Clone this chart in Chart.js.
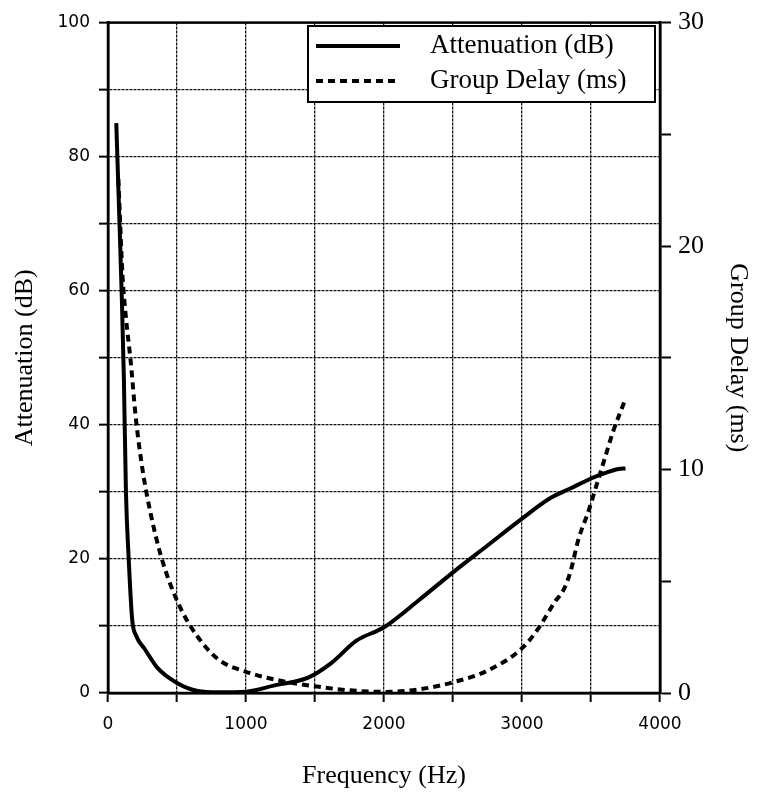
<!DOCTYPE html>
<html>
<head>
<meta charset="utf-8">
<script src="https://cdn.jsdelivr.net/npm/chart.js@4/dist/chart.umd.min.js"></script>
<style>
  html, body { margin: 0; padding: 0; background: #fff; }
  #wrap { width: 762px; height: 796px; }
</style>
</head>
<body>
<div id="wrap"><canvas id="c" width="762" height="796"></canvas></div>
<script>
// ---- data ----
const seriesNames = ['Attenuation (dB)', 'Group Delay (ms)'];
const attenFreq = [60, 85, 100, 115, 130, 150, 175, 205, 265, 360, 500, 650, 800, 1000, 1200, 1450, 1620, 1800, 2000, 2250, 2500, 2750, 3000, 3200, 3350, 3500, 3600, 3700, 3750];
const attenDb   = [85, 69, 59, 47, 30, 20, 11, 8.5, 6.6, 3.7, 1.5, 0.3, 0.1, 0.2, 1.1, 2.3, 4.5, 7.8, 9.8, 13.8, 18, 22, 26, 29, 30.5, 32, 32.8, 33.4, 33.5];
const delayFreq = [75, 85, 105, 130, 165, 200, 250, 310, 390, 510, 640, 800, 1000, 1250, 1500, 1750, 2000, 2250, 2500, 2750, 3000, 3120, 3240, 3300, 3350, 3410, 3480, 3540, 3600, 3660, 3740];
const delayMs   = [23, 21.5, 18.7, 16.8, 14.8, 12.4, 10, 8, 6, 4, 2.6, 1.5, 0.95, 0.55, 0.3, 0.12, 0.05, 0.16, 0.48, 1.0, 2.0, 2.9, 4.1, 4.6, 5.4, 6.9, 8.1, 9.3, 10.5, 11.7, 13.0];
const freqTickLabels = [0, 1000, 2000, 3000, 4000];
const attenTickLabels = [0, 20, 40, 60, 80, 100];
const delayTickLabels = [0, 10, 20, 30];

const toPoints = (xs, ys) => xs.map((x, i) => ({ x: x, y: ys[i] }));

const SERIF = '"Liberation Serif", "Times New Roman", serif';
const SANS = '"DejaVu Sans", "Liberation Sans", sans-serif';

const framePlugin = {
  id: 'frame',
  afterDatasetsDraw(chart) {
    const { ctx, chartArea: a } = chart;
    ctx.save();
    ctx.strokeStyle = '#000';
    ctx.lineWidth = 2.5;
    ctx.strokeRect(a.left, a.top, a.right - a.left, a.bottom - a.top);
    ctx.restore();
  }
};

const legendBoxPlugin = {
  id: 'legendBox',
  afterDraw(chart) {
    const { ctx } = chart;
    const bx = 308, by = 26, bw = 347, bh = 76;
    ctx.save();
    ctx.fillStyle = '#fff';
    ctx.fillRect(bx, by, bw, bh);
    ctx.strokeStyle = '#000';
    ctx.lineWidth = 2;
    ctx.strokeRect(bx, by, bw, bh);
    const rows = [46, 81];
    chart.data.datasets.forEach((ds, i) => {
      const y = rows[i];
      ctx.strokeStyle = ds.borderColor;
      ctx.lineWidth = ds.borderWidth;
      ctx.setLineDash(i === 1 ? [7, 5] : []);
      ctx.beginPath();
      ctx.moveTo(bx + 8, y);
      ctx.lineTo(bx + 92, y);
      ctx.stroke();
      ctx.setLineDash([]);
      ctx.fillStyle = '#000';
      ctx.font = '27px ' + SERIF;
      ctx.textBaseline = 'middle';
      ctx.textAlign = 'left';
      ctx.fillText(ds.label, bx + 122, y);
    });
    ctx.restore();
  }
};

const gridStyle = { color: '#111', lineWidth: 1.3, tickLength: 9, tickColor: '#000', tickWidth: 2 };

new Chart(document.getElementById('c'), {
  type: 'line',
  data: {
    datasets: [
      {
        label: seriesNames[0],
        data: toPoints(attenFreq, attenDb),
        yAxisID: 'yL',
        borderColor: '#000',
        backgroundColor: '#000',
        borderWidth: 4,
        pointRadius: 0,
        cubicInterpolationMode: 'monotone',
        fill: false
      },
      {
        label: seriesNames[1],
        data: toPoints(delayFreq, delayMs),
        yAxisID: 'yR',
        borderColor: '#000',
        backgroundColor: '#000',
        borderWidth: 4,
        borderDash: [7, 5],
        pointRadius: 0,
        cubicInterpolationMode: 'monotone',
        fill: false
      }
    ]
  },
  options: {
    responsive: false,
    animation: false,
    devicePixelRatio: 1,
    layout: { padding: { top: 18, left: 0, right: 0, bottom: 0 } },
    plugins: {
      legend: { display: false },
      tooltip: { enabled: false }
    },
    scales: {
      x: {
        type: 'linear',
        position: 'bottom',
        min: 0, max: 4000,
        afterFit(s) { s.height = 103; },
        afterBuildTicks(s) { s.ticks = []; for (let v = 0; v <= 4000; v += 500) s.ticks.push({ value: v }); },
        ticks: {
          autoSkip: false,
          maxRotation: 0,
          padding: 12,
          color: '#000',
          font: { family: SANS, size: 17 },
          callback: (v) => freqTickLabels.includes(v) ? String(v) : ''
        },
        grid: gridStyle,
        border: { display: true, color: '#000', width: 2.5, dash: [3, 1] },
        title: {
          display: true, text: 'Frequency (Hz)', color: '#000',
          font: { family: SERIF, size: 26 },
          padding: { top: 0, bottom: 4 }
        }
      },
      yL: {
        type: 'linear',
        position: 'left',
        min: 0, max: 100,
        afterFit(s) { s.width = 108; },
        afterBuildTicks(s) { s.ticks = []; for (let v = 0; v <= 100; v += 10) s.ticks.push({ value: v }); },
        ticks: {
          autoSkip: false,
          padding: 9,
          color: '#000',
          font: { family: SANS, size: 17 },
          callback: (v) => attenTickLabels.includes(v) ? String(v) : ''
        },
        grid: gridStyle,
        border: { display: true, color: '#000', width: 2.5, dash: [3, 1] },
        title: {
          display: true, text: 'Attenuation (dB)', color: '#000',
          font: { family: SERIF, size: 26 },
          padding: { top: 10, bottom: 0 }
        }
      },
      yR: {
        type: 'linear',
        position: 'right',
        min: 0, max: 30,
        afterFit(s) { s.width = 102; },
        afterBuildTicks(s) { s.ticks = []; for (let v = 0; v <= 30; v += 5) s.ticks.push({ value: v }); },
        ticks: {
          autoSkip: false,
          padding: 7,
          color: '#000',
          font: { family: SERIF, size: 26 },
          callback: (v) => delayTickLabels.includes(v) ? String(v) : ''
        },
        grid: { drawOnChartArea: false, tickLength: 11, tickColor: '#000', tickWidth: 2 },
        border: { display: true, color: '#000', width: 2.5 },
        title: {
          display: true, text: 'Group Delay (ms)', color: '#000',
          font: { family: SERIF, size: 26 },
          padding: { top: 9, bottom: 0 }
        }
      }
    }
  },
  plugins: [framePlugin, legendBoxPlugin]
});
</script>
</body>
</html>
